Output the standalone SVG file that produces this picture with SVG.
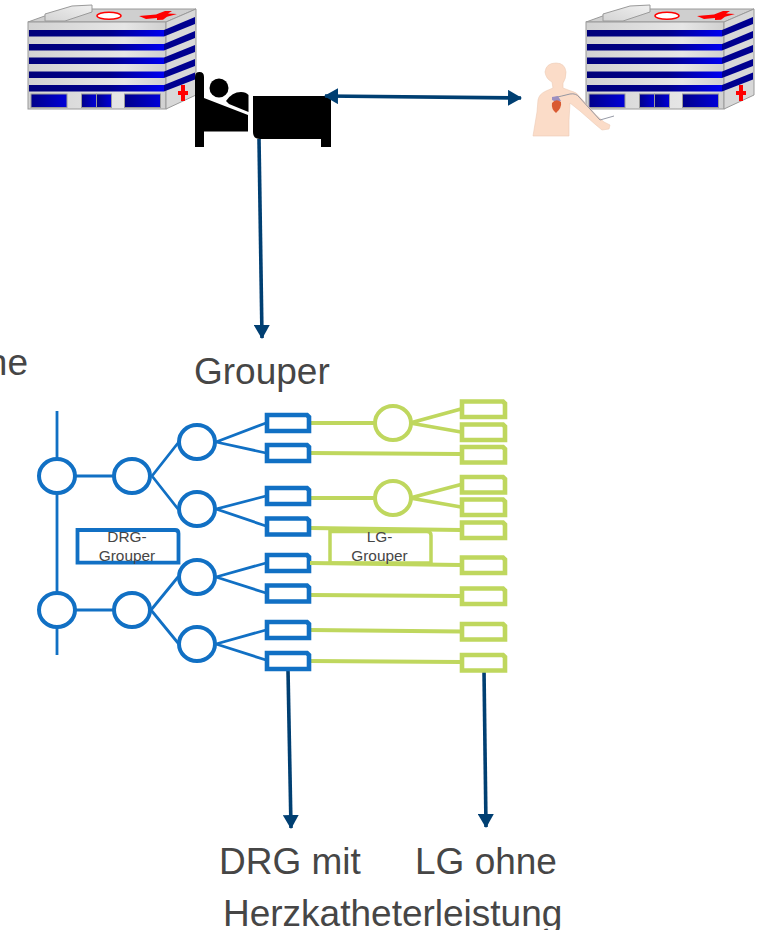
<svg xmlns="http://www.w3.org/2000/svg" width="765" height="930" viewBox="0 0 765 930">
<style>
.t{font-family:"Liberation Sans",Arial,sans-serif;fill:#464646}
.big{font-size:37px}
.small{font-size:15.4px;text-anchor:middle}
.bl{fill:#fff;stroke:#1170c4;stroke-width:4}
.br{fill:#fff;stroke:#1170c4;stroke-width:4.600}
.gr{fill:#fff;stroke:#bfd75e;stroke-width:4}
.grr{fill:#fff;stroke:#bfd75e;stroke-width:4.600}
.bline{fill:none;stroke:#1170c4;stroke-width:2.800}
.gline{fill:none;stroke:#bfd75e;stroke-width:3.800}
.conn{fill:none;stroke:#003f72;stroke-width:3.600}
.ol{stroke:#9a9a9a;stroke-width:1}
</style>
<defs>
<marker id="arr" viewBox="0 0 14 16" refX="13" refY="8" markerUnits="userSpaceOnUse" markerWidth="14" markerHeight="16" orient="auto-start-reverse"><path d="M0 0L14 8L0 16Z" fill="#003f72"/></marker>
<linearGradient id="band" x1="0" x2="1" y1="0" y2="0"><stop offset="0" stop-color="#00007a"/><stop offset="0.6" stop-color="#00008c"/><stop offset="1" stop-color="#0000f0"/></linearGradient>
<linearGradient id="win" x1="0" x2="1" y1="0" y2="0"><stop offset="0" stop-color="#00008a"/><stop offset="1" stop-color="#0000d8"/></linearGradient>
<linearGradient id="wall" x1="0" x2="1" y1="0" y2="0"><stop offset="0" stop-color="#d2d2d2"/><stop offset="0.7" stop-color="#e6e6e6"/><stop offset="1" stop-color="#d0d0d0"/></linearGradient>
<linearGradient id="box" x1="0" x2="1" y1="1" y2="0"><stop offset="0" stop-color="#d4d4d4"/><stop offset="1" stop-color="#f0f0f0"/></linearGradient>
<g id="hospital">
<path class="ol" d="M28 22L166 22L196 9L64 9Z" fill="#cfcfcf"/>
<path class="ol" d="M45 21L45 14L72 6L92 5L92 12L65 21Z" fill="url(#box)"/>
<ellipse cx="109" cy="15.700" rx="12" ry="3.500" fill="#fff" stroke="#f00" stroke-width="1.500"/>
<path d="M139 16L156 14.500L165 11L172 11L168 13.500L177 14L167 16.700L163 19.700L157 20L157 18L146 19Z" fill="#f00"/>
<rect class="ol" x="28" y="22" width="138" height="87" fill="url(#wall)"/>
<path class="ol" d="M166 22L196 9L196 95L166 109Z" fill="#d8d8d8"/>
<g fill="url(#band)">
<rect x="29" y="30" width="135" height="6.500"/><rect x="29" y="44" width="135" height="6.500"/><rect x="29" y="57.500" width="135" height="6.500"/><rect x="29" y="71.500" width="135" height="6.500"/><rect x="29" y="85" width="135" height="6.500"/>
</g>
<g fill="#000090">
<path d="M164 30L195 17L195 24L164 36.500Z"/><path d="M164 44L195 31L195 38L164 50.500Z"/><path d="M164 57.500L195 45L195 52L164 64Z"/><path d="M164 71.500L195 59L195 66L164 78Z"/><path d="M164 85L195 72.500L195 79.500L164 91.500Z"/>
</g>
<rect class="ol" x="31" y="94" width="36" height="13.500" fill="url(#win)"/>
<rect class="ol" x="81.500" y="94" width="15" height="13.500" fill="url(#win)"/>
<rect class="ol" x="96.500" y="94" width="15" height="13.500" fill="url(#win)"/>
<rect class="ol" x="124.500" y="94" width="36" height="13.500" fill="url(#win)"/>
<path d="M181 85L185 85L185 91L188 91L188 95L185 95L185 101L181 101L181 95L178 95L178 91L181 91Z" fill="#f00"/>
</g>
</defs>

<g id="hospital-left"><use href="#hospital"/></g>
<g id="hospital-right"><use href="#hospital" x="558"/></g>

<g id="patient-bed" fill="#000">
<path d="M195 77Q195 72 199.500 72Q204 72 204 77L204 98L248 115L248 131.500L204 131.500L204 147L195 147Z"/>
<circle cx="219" cy="88" r="9.500"/>
<path d="M226 101Q232 92 241 92Q246 92 248.500 95L248.500 112L229 104Z"/>
<path d="M253 96L331 96L331 147L321 147L321 139L260 139Q253 139 253 132Z"/>
</g>

<g id="catheter-patient">
<path d="M545 72Q546 63 556 63Q565 63 566 72Q566 79 563 83L563 88L571 91Q577 92 580 97L596 115L604 122L610 125L609 129L602 130L596 125L580 111L570 103L569 120L569 136L533 136L537 112L538 100Q539 94 546 91L553 88L552 82Q546 79 545 72Z" fill="#fbdcc8" stroke="#eccbb6" stroke-width="0.600"/>
<path d="M553 98Q562 96 570 94Q576 93 579 97L600 120L614 116" fill="none" stroke="#8a8f9c" stroke-width="0.900"/>
<path d="M552 97L558 96L561 101L556 102L552 100Z" fill="#9c8fc0"/>
<path d="M552 103Q556 98 561 102Q562 108 556 113Q551 109 552 103Z" fill="#d95a32"/>
</g>

<g id="connectors">
<path class="conn" d="M259 139L262 338" marker-end="url(#arr)"/>
<path class="conn" d="M325 96L521 98" marker-start="url(#arr)" marker-end="url(#arr)"/>
<path class="conn" d="M288 670L291 828" marker-end="url(#arr)"/>
<path class="conn" d="M484 670L486 827" marker-end="url(#arr)"/>
<g id="drg-tree-lines">
<path class="bline" d="M57 411L57 655"/>
<path class="bline" d="M57 476L132 476M57 610L132 610"/>
<path class="bline" d="M152 476L178 443M152 476L178 509M151 610L178 577M151 610L178 643"/>
<path class="bline" d="M216 442L266 423M216 442L266 453M216 509L266 496M216 509L266 526M216 577L266 563M216 577L266 593M216 644L266 630M216 644L266 660"/>
</g>
<g id="lg-tree-lines">
<path class="gline" d="M310 423L375 423M410 423L461 409M410 423L461 432M310 453L461 454"/>
<path class="gline" d="M310 498L375 498M410 498L461 484.500M410 498L461 507M310 528L461 530"/>
<path class="gline" d="M310 595L461 596M310 630L461 631.500M310 661L461 662"/>
</g>
</g>

<g id="drg-nodes">
<ellipse class="bl" cx="57" cy="476" rx="18" ry="17"/>
<ellipse class="bl" cx="132" cy="476" rx="18" ry="17"/>
<ellipse class="bl" cx="197" cy="442" rx="18" ry="17"/>
<ellipse class="bl" cx="197" cy="509" rx="18" ry="17"/>
<ellipse class="bl" cx="197" cy="577" rx="18" ry="17"/>
<ellipse class="bl" cx="197" cy="644" rx="18" ry="17"/>
<ellipse class="bl" cx="57" cy="610" rx="18" ry="17"/>
<ellipse class="bl" cx="132" cy="610" rx="18" ry="17"/>
<path class="br" d="M267 415L307 415L309 417L309 431L267 431Z"/>
<path class="br" d="M267 445L307 445L309 447L309 461L267 461Z"/>
<path class="br" d="M267 488L307 488L309 490L309 504L267 504Z"/>
<path class="br" d="M267 518.500L307 518.500L309 520.500L309 534.500L267 534.500Z"/>
<path class="br" d="M267 555L307 555L309 557L309 571L267 571Z"/>
<path class="br" d="M267 585.500L307 585.500L309 587.500L309 601.500L267 601.500Z"/>
<path class="br" d="M267 622L307 622L309 624L309 638L267 638Z"/>
<path class="br" d="M267 653L307 653L309 655L309 669L267 669Z"/>
</g>

<g id="lg-nodes">
<ellipse class="gr" cx="393" cy="423" rx="18" ry="17"/>
<ellipse class="gr" cx="393" cy="498" rx="18" ry="17"/>
<path class="grr" d="M462 401.500L503 401.500L505 403.500L505 417L462 417Z"/>
<path class="grr" d="M462 424.500L503 424.500L505 426.500L505 440L462 440Z"/>
<path class="grr" d="M462 447L503 447L505 449L505 462.500L462 462.500Z"/>
<path class="grr" d="M462 477L503 477L505 479L505 492.500L462 492.500Z"/>
<path class="grr" d="M462 499.500L503 499.500L505 501.500L505 515L462 515Z"/>
<path class="grr" d="M462 522.500L503 522.500L505 524.500L505 538L462 538Z"/>
<path class="grr" d="M462 557.500L503 557.500L505 559.500L505 573L462 573Z"/>
<path class="grr" d="M462 588.500L503 588.500L505 590.500L505 604L462 604Z"/>
<path class="grr" d="M462 624L503 624L505 626L505 639.500L462 639.500Z"/>
<path class="grr" d="M462 655L503 655L505 657L505 670.500L462 670.500Z"/>
</g>

<g id="drg-grouper">
<path d="M77.500 530L175 530Q178.500 530 178.500 533.500L178.500 562.700L77.500 562.700Z" fill="#fff" stroke="#1170c4" stroke-width="3.800"/>
<text class="t small" x="127" y="542">DRG-</text>
<text class="t small" x="127" y="561">Grouper</text>
</g>
<g id="lg-grouper">
<path d="M330 563L330 531.500L427 531.500Q431 531.500 431 535.500L431 563Z" fill="#fff" stroke="#bfd75e" stroke-width="3.500"/>
<path class="gline" d="M310 563L461 565"/>
<text class="t small" x="379.500" y="542">LG-</text>
<text class="t small" x="379.500" y="561">Grouper</text>
</g>

<g id="labels">
<text class="t big" x="28" y="374.500" text-anchor="end">ne</text>
<text class="t big" x="194" y="383.500">Grouper</text>
<text class="t big" x="219" y="874">DRG mit</text>
<text class="t big" x="415" y="874">LG ohne</text>
<text class="t big" x="223" y="926">Herzkatheterleistung</text>
</g>
</svg>
